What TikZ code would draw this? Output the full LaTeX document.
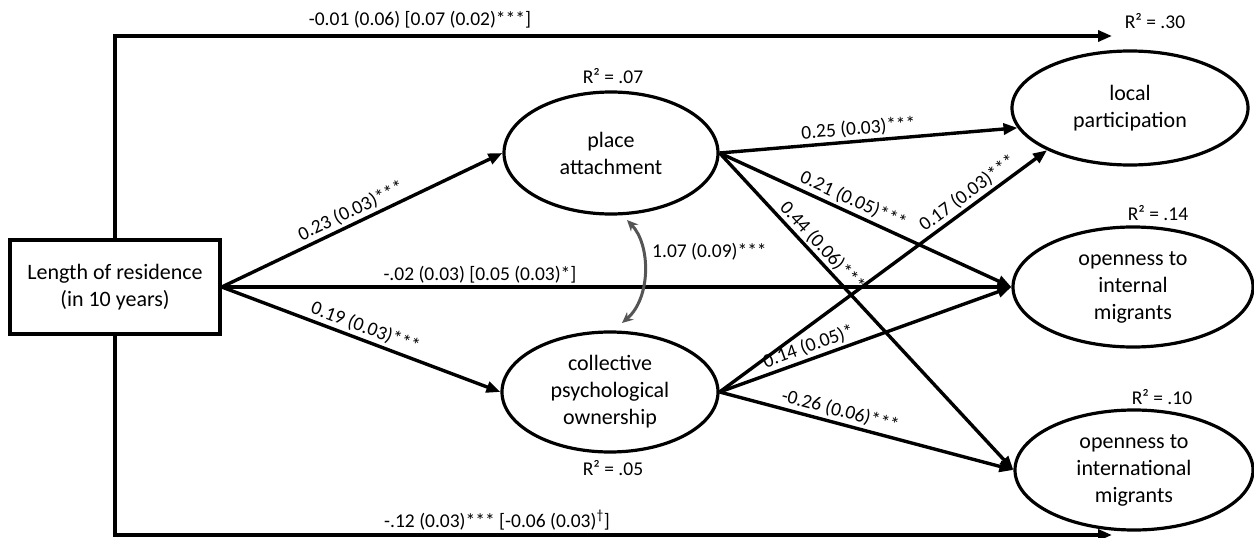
\documentclass[tikz,border=0pt]{standalone}
\usepackage{fontspec}
\setmainfont{Carlito}
\usetikzlibrary{arrows.meta,shapes.geometric}
\definecolor{covgray}{HTML}{555555}
\begin{document}
\begin{tikzpicture}[x=1pt,y=-1pt,
 obsbox/.style={draw, line width=3.5pt, minimum width=210pt, minimum height=94pt, align=center, inner sep=0pt, font=\fontsize{22}{27.5}\selectfont},
 lat/.style={draw, ellipse, line width=3.2pt, align=center, inner sep=0pt, font=\fontsize{22}{27}\selectfont},
 effect/.style={line width=3.4pt, -{Triangle[length=14pt,width=11pt]}},
 lab/.style={sloped, above, inner sep=2.5pt, font=\fontsize{19.5}{23}\selectfont},
 flat/.style={inner sep=0pt, font=\fontsize{19.5}{23}\selectfont},
 rsq/.style={inner sep=0pt, font=\fontsize{19.5}{23}\selectfont},
 cov/.style={line width=3pt, draw=covgray, {Stealth[length=11pt,width=10pt]}-{Stealth[length=11pt,width=10pt]}}
]
\useasboundingbox (0,0) rectangle (1254,538);

% nodes
\node[obsbox] (lor) at (115,287) {Length of residence\\(in 10 years)};
\node[lat, minimum width=214pt, minimum height=122pt] (pa) at (611,153) {place\\attachment};
\node[lat, minimum width=216pt, minimum height=120pt] (cpo) at (610,392) {collective\\psychological\\ownership};
\node[lat, minimum width=236pt, minimum height=114pt] (lp) at (1130,108) {local\\participation};
\node[lat, minimum width=240pt, minimum height=120pt] (oi) at (1133,287) {openness to\\internal\\migrants};
\node[lat, minimum width=238pt, minimum height=120pt] (oint) at (1134,470) {openness to\\international\\migrants};

% R squared
\node[rsq] (r1) at (613,76) {R² = .07};
\node[rsq] (r2) at (613,468) {R² = .05};
\node[rsq] (r3) at (1155,21) {R² = .30};
\node[rsq] (r4) at (1158,213) {R² = .14};
\node[rsq] (r5) at (1162,397) {R² = .10};

% corner coordinates for outer paths
\coordinate (tl) at (115,36);
\coordinate (tr) at (1112,36);
\coordinate (bl) at (115,535);
\coordinate (br) at (1112,535);

% outer paths
\draw[effect] (lor.north) -- (tl) -- (tr);
\node[flat] (toplab) at (420,20) {-0.01 (0.06) [0.07 (0.02)***]};
\draw[effect] (lor.south) -- (bl) -- (br);
\node[flat] (botlab) at (497,520) {-.12 (0.03)*** [-0.06 (0.03)\textsuperscript{†}]};

% paths from length of residence
\draw[effect] (lor.east) -- node[lab, pos=0.48] {0.23 (0.03)***} (pa.west);
\draw[effect] (lor.east) -- node[lab, pos=0.5] {0.19 (0.03)***} (cpo.west);
\draw[effect] (lor.east) -- node[lab, pos=0.327] {-.02 (0.03) [0.05 (0.03)*]} (oi.west);

% paths from place attachment
\draw[effect] (pa.east) -- node[lab, pos=0.47] {0.25 (0.03)***} (lp.190);
\draw[effect] (pa.east) -- node[lab, pos=0.44] {0.21 (0.05)***} (oi.west);
\draw[effect] (pa.east) -- node[lab, pos=0.32, inner sep=1.5pt] {0.44 (0.06)***} (oint.west);

% paths from collective psychological ownership
\draw[effect] (cpo.east) -- node[lab, pos=0.78] {0.17 (0.03)***} (lp.207);
\draw[effect] (cpo.east) -- node[lab, pos=0.32] {0.14 (0.05)*} (oi.west);
\draw[effect] (cpo.east) -- node[lab, pos=0.40] {-0.26 (0.06)***} (oint.west);

% covariance
\coordinate (c1) at (627,220);
\coordinate (c2) at (622,323);
\draw[cov] (c1) .. controls (651,245) and (651,298) .. (c2);
\node[flat, anchor=west] (covlab) at (652,252) {1.07 (0.09)***};
\end{tikzpicture}
\end{document}
